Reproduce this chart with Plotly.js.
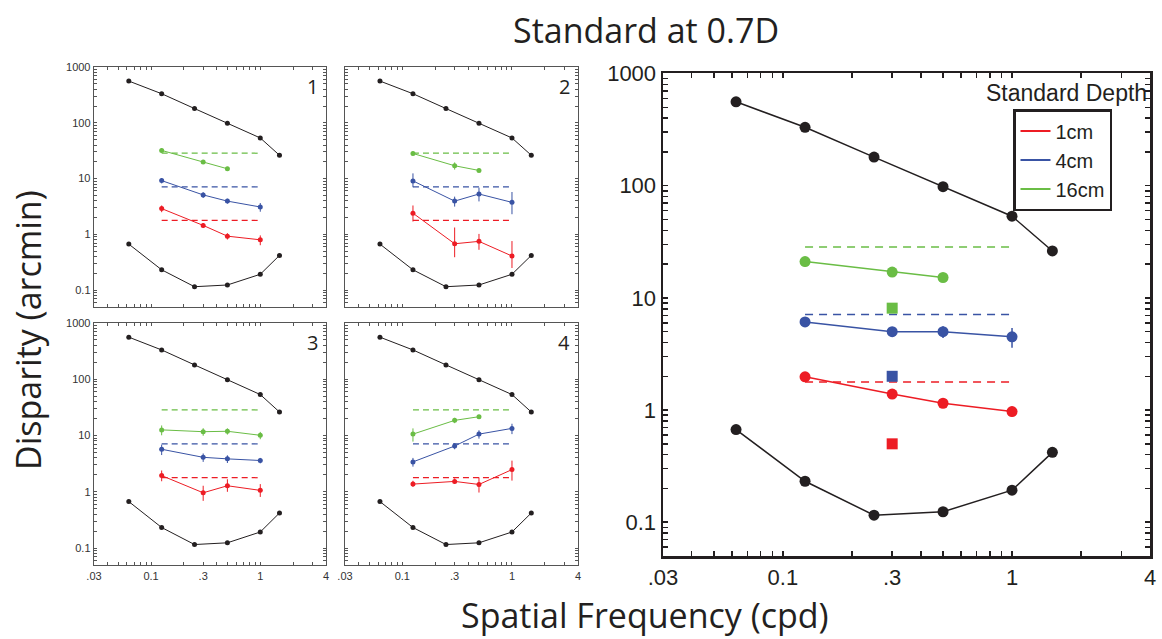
<!DOCTYPE html>
<html>
<head>
<meta charset="utf-8">
<script src="https://cdn.plot.ly/plotly-3.0.1.min.js"></script>
<style>
  html, body { margin: 0; padding: 0; background: #fff; }
  #chart { width: 1162px; height: 639px; }
</style>
</head>
<body>
<div id="chart"></div>
<script>
// ---------------- DATA ----------------
const X_BLACK = [0.0625, 0.125, 0.25, 0.5, 1, 1.5];
const X_COLOR = [0.125, 0.3, 0.5, 1];
const X_GREEN3 = [0.125, 0.3, 0.5];
const X_DASH = [0.125, 1];
const X_SQUARE = [0.3];

// black envelope curves (same in all panels)
const BLACK_UPPER = [560, 332, 180, 98, 53.5, 26.2];
const BLACK_LOWER = [0.67, 0.232, 0.1155, 0.124, 0.193, 0.42];

// standard-depth reference (dashed) levels
const DASH_RED = 1.78;
const DASH_BLUE = 7.1;
const DASH_GREEN = 28.5;

// Panel 1
const P1_GREEN = [32, 19.8, 15.0];      const P1_GREEN_ERR = [3, 1.5, 1.2];
const P1_BLUE = [9.2, 5.1, 3.95, 3.1];  const P1_BLUE_ERR = [1.0, 0.6, 0.4, 0.55];
const P1_RED = [2.9, 1.45, 0.93, 0.8];  const P1_RED_ERR = [0.4, 0.15, 0.12, 0.16];
// Panel 2
const P2_GREEN = [28.2, 17.0, 14.0];    const P2_GREEN_ERR = [2.5, 2.5, 1.0];
const P2_BLUE = [9.1, 3.95, 5.3, 3.75]; const P2_BLUE_PLUS = [3.3, 0.8, 1.6, 2.0]; const P2_BLUE_MINUS = [2.1, 0.8, 1.4, 1.45];
const P2_RED = [2.4, 0.68, 0.75, 0.41]; const P2_RED_PLUS = [0.9, 0.65, 0.27, 0.35]; const P2_RED_MINUS = [0.7, 0.29, 0.22, 0.16];
// Panel 3
const P3_GREEN = [12.6, 11.7, 11.9, 10.1]; const P3_GREEN_ERR = [2.5, 1.8, 1.5, 1.5];
const P3_BLUE = [5.7, 4.1, 3.85, 3.6];     const P3_BLUE_ERR = [1.2, 0.7, 0.6, 0.4];
const P3_RED = [1.94, 0.96, 1.28, 1.06];   const P3_RED_PLUS = [0.45, 0.32, 0.39, 0.31]; const P3_RED_MINUS = [0.4, 0.27, 0.28, 0.25];
// Panel 4
const P4_GREEN = [10.6, 18.6, 21.6];       const P4_GREEN_ERR = [2.8, 2.0, 1.2];
const P4_BLUE = [3.4, 6.5, 10.6, 13.4];    const P4_BLUE_ERR = [0.6, 0.8, 1.8, 2.8];
const P4_RED = [1.37, 1.53, 1.35, 2.48];   const P4_RED_PLUS = [0.2, 0.2, 0.45, 1.1]; const P4_RED_MINUS = [0.15, 0.15, 0.38, 0.9];
// Large panel (average)
const PL_GREEN = [21.1, 17.0, 15.2];       const PL_GREEN_ERR = [2.2, 0.8, 0.7];
const PL_BLUE = [6.1, 5.0, 5.0, 4.5];      const PL_BLUE_ERR = [0.5, 0.3, 0.6, 0.9];
const PL_RED = [1.98, 1.39, 1.15, 0.97];   const PL_RED_ERR = [0.1, 0.12, 0.1, 0.1];
const SQ_GREEN = [8.1];
const SQ_BLUE = [2.0];
const SQ_RED = [0.5];

// ticks
const X_TICK_VALS = [0.03, 0.1, 0.3, 1, 4];
const X_TICK_TEXT = ['.03', '0.1', '.3', '1', '4'];
const Y_TICK_VALS = [0.1, 1, 10, 100, 1000];
const Y_TICK_TEXT = ['0.1', '1', '10', '100', '1000'];
const LEGEND_NAMES = ['1cm', '4cm', '16cm'];
const PANEL_LABELS = ['1', '2', '3', '4'];

// ---------------- STYLE ----------------
const RED = '#ED1C24', BLUE = '#3953A4', GREEN = '#6ABD45', BLACK = '#231F20';
const TICK_FONT = 'Liberation Sans, Arial, sans-serif';
const TITLE_FONT = 'Open Sans, Noto Sans, sans-serif';

function minorTicks(lo, hi) {
  const v = [];
  for (let d = -3; d <= 4; d++) {
    for (let m = 1; m <= 9; m++) {
      const t = +(m * Math.pow(10, d)).toPrecision(3);
      if (t >= lo - 1e-9 && t <= hi + 1e-9) v.push(t);
    }
  }
  return v;
}
function tickSet(lo, hi, vals, texts) {
  const all = minorTicks(lo, hi);
  vals.forEach(v => { if (!all.some(a => Math.abs(a - v) < 1e-9)) all.push(v); });
  all.sort((a, b) => a - b);
  const txt = all.map(a => {
    const i = vals.findIndex(v => Math.abs(v - a) < 1e-9);
    return i >= 0 ? texts[i] : '';
  });
  return { vals: all, text: txt };
}
const XT = tickSet(0.03, 4, X_TICK_VALS, X_TICK_TEXT);
const YT = tickSet(0.05, 1000, Y_TICK_VALS, Y_TICK_TEXT);

const W = 1162, H = 639;
function dx(a, b) { return [a / W, b / W]; }
function dy(top, bot) { return [1 - bot / H, 1 - top / H]; }

// panel pixel boxes
const DOMAINS = [
  { x: dx(94, 326), y: dy(67, 307) },
  { x: dx(345, 578), y: dy(67, 307) },
  { x: dx(94, 326), y: dy(323, 565) },
  { x: dx(345, 578), y: dy(323, 565) },
  { x: dx(663, 1150), y: dy(73, 556) }
];

function xAxis(i, showLabels, big) {
  return {
    type: 'log', range: [Math.log10(0.03), Math.log10(4)],
    domain: DOMAINS[i].x, anchor: 'y' + (i + 1),
    tickmode: 'array', tickvals: XT.vals,
    ticktext: showLabels ? XT.text : XT.vals.map(() => ''),
    ticks: 'inside', ticklen: big ? 5 : 3, tickwidth: big ? 1.5 : 1,
    tickcolor: big ? BLACK : '#555',
    showline: true, mirror: 'ticks', linecolor: big ? BLACK : '#555', linewidth: big ? 2.5 : 1.3,
    showgrid: false, zeroline: false, fixedrange: true,
    tickfont: { family: TICK_FONT, size: big ? 22 : 11, color: big ? BLACK : '#333' }
  };
}
function yAxis(i, showLabels, big) {
  return {
    type: 'log', range: [Math.log10(0.05), big ? 3.005 : 3.0],
    domain: DOMAINS[i].y, anchor: 'x' + (i + 1),
    tickmode: 'array', tickvals: YT.vals,
    ticktext: showLabels ? YT.text : YT.vals.map(() => ''),
    ticks: 'inside', ticklen: big ? 5 : 3, tickwidth: big ? 1.5 : 1,
    tickcolor: big ? BLACK : '#555',
    showline: true, mirror: 'ticks', linecolor: big ? BLACK : '#555', linewidth: big ? 2.5 : 1.3,
    showgrid: false, zeroline: false, fixedrange: true,
    tickfont: { family: TICK_FONT, size: big ? 22 : 11, color: big ? BLACK : '#333' }
  };
}

const traces = [];
function axRef(i) { return { xaxis: 'x' + (i + 1), yaxis: 'y' + (i + 1) }; }

function addPanel(i, big, green, greenX, greenP, greenM, blue, blueP, blueM, red, redP, redM) {
  const ms = big ? 11 : 5, lw = big ? 1.5 : 1, ew = big ? 1.5 : 1;
  const ax = axRef(i);
  [BLACK_UPPER, BLACK_LOWER].forEach(yv => traces.push(Object.assign({
    x: X_BLACK, y: yv, mode: 'lines+markers', showlegend: false, hoverinfo: 'skip',
    line: { color: BLACK, width: lw }, marker: { color: BLACK, size: big ? 11 : 5 }
  }, ax)));
  [[DASH_GREEN, GREEN], [DASH_BLUE, BLUE], [DASH_RED, RED]].forEach(([lvl, c]) => traces.push(Object.assign({
    x: X_DASH, y: X_DASH.map(() => lvl), mode: 'lines', showlegend: false, hoverinfo: 'skip',
    line: { color: c, width: big ? 1.5 : 1.2, dash: big ? '8px,6px' : '6px,4px' }
  }, ax)));
  const ser = [[green, greenX, greenP, greenM, GREEN], [blue, X_COLOR, blueP, blueM, BLUE], [red, X_COLOR, redP, redM, RED]];
  ser.forEach(([yv, xv, p, m, c]) => traces.push(Object.assign({
    x: xv, y: yv, mode: 'lines+markers', showlegend: false, hoverinfo: 'skip',
    line: { color: c, width: lw }, marker: { color: c, size: ms },
    error_y: { type: 'data', symmetric: false, array: p, arrayminus: m, color: c, thickness: ew, width: 0 }
  }, ax)));
}

addPanel(0, false, P1_GREEN, X_GREEN3, P1_GREEN_ERR, P1_GREEN_ERR, P1_BLUE, P1_BLUE_ERR, P1_BLUE_ERR, P1_RED, P1_RED_ERR, P1_RED_ERR);
addPanel(1, false, P2_GREEN, X_GREEN3, P2_GREEN_ERR, P2_GREEN_ERR, P2_BLUE, P2_BLUE_PLUS, P2_BLUE_MINUS, P2_RED, P2_RED_PLUS, P2_RED_MINUS);
addPanel(2, false, P3_GREEN, X_COLOR, P3_GREEN_ERR, P3_GREEN_ERR, P3_BLUE, P3_BLUE_ERR, P3_BLUE_ERR, P3_RED, P3_RED_PLUS, P3_RED_MINUS);
addPanel(3, false, P4_GREEN, X_GREEN3, P4_GREEN_ERR, P4_GREEN_ERR, P4_BLUE, P4_BLUE_ERR, P4_BLUE_ERR, P4_RED, P4_RED_PLUS, P4_RED_MINUS);
addPanel(4, true, PL_GREEN, X_GREEN3, PL_GREEN_ERR, PL_GREEN_ERR, PL_BLUE, PL_BLUE_ERR, PL_BLUE_ERR, PL_RED, PL_RED_ERR, PL_RED_ERR);

[[SQ_GREEN, GREEN], [SQ_BLUE, BLUE], [SQ_RED, RED]].forEach(([yv, c]) => traces.push(Object.assign({
  x: X_SQUARE, y: yv, mode: 'markers', showlegend: false, hoverinfo: 'skip',
  marker: { color: c, size: 11, symbol: 'square' }
}, axRef(4))));

[RED, BLUE, GREEN].forEach((c, k) => traces.push({
  x: [null], y: [null], xaxis: 'x5', yaxis: 'y5', mode: 'lines', name: LEGEND_NAMES[k],
  showlegend: true, line: { color: c, width: 2 }
}));

const annotations = [
  { text: 'Standard at 0.7D', xref: 'paper', yref: 'paper', x: 646 / W, y: 1 - 30 / H, xanchor: 'center', yanchor: 'middle', showarrow: false,
    font: { family: TITLE_FONT, size: 34, color: BLACK } },
  { text: 'Spatial Frequency (cpd)', xref: 'paper', yref: 'paper', x: 645 / W, y: 0, xanchor: 'center', yanchor: 'bottom', showarrow: false,
    borderpad: 0, font: { family: TITLE_FONT, size: 34, color: BLACK } },
  { text: 'Disparity (arcmin)', xref: 'paper', yref: 'paper', x: 28 / W, y: 1 - 330 / H, xanchor: 'center', yanchor: 'middle', showarrow: false, textangle: -90,
    font: { family: TITLE_FONT, size: 34, color: BLACK } },
  { text: 'Standard Depth', xref: 'paper', yref: 'paper', x: 1149 / W, y: 1 - 93 / H, xanchor: 'right', yanchor: 'middle', showarrow: false,
    font: { family: TICK_FONT, size: 23, color: BLACK } }
];
PANEL_LABELS.forEach((t, i) => annotations.push({
  text: t, xref: 'x' + (i + 1) + ' domain', yref: 'y' + (i + 1) + ' domain', x: 0.975, y: 0.985,
  xanchor: 'right', yanchor: 'top', showarrow: false,
  font: { family: TITLE_FONT, size: 20, color: BLACK }
}));

const layout = {
  width: W, height: H, margin: { l: 0, r: 0, t: 0, b: 0 },
  paper_bgcolor: '#fff', plot_bgcolor: '#fff',
  showlegend: true,
  legend: {
    x: 1112 / W, xanchor: 'right', y: 1 - 109 / H, yanchor: 'top',
    bordercolor: BLACK, borderwidth: 2.5, bgcolor: '#fff',
    font: { family: TICK_FONT, size: 20, color: BLACK },
    itemwidth: 30, tracegroupgap: 0
  },
  annotations: annotations,
  xaxis: xAxis(0, false, false), yaxis: yAxis(0, true, false),
  xaxis2: xAxis(1, false, false), yaxis2: yAxis(1, false, false),
  xaxis3: xAxis(2, true, false), yaxis3: yAxis(2, true, false),
  xaxis4: xAxis(3, true, false), yaxis4: yAxis(3, false, false),
  xaxis5: xAxis(4, true, true), yaxis5: yAxis(4, true, true)
};

Plotly.newPlot('chart', traces, layout, { displayModeBar: false, staticPlot: true });
</script>
</body>
</html>
